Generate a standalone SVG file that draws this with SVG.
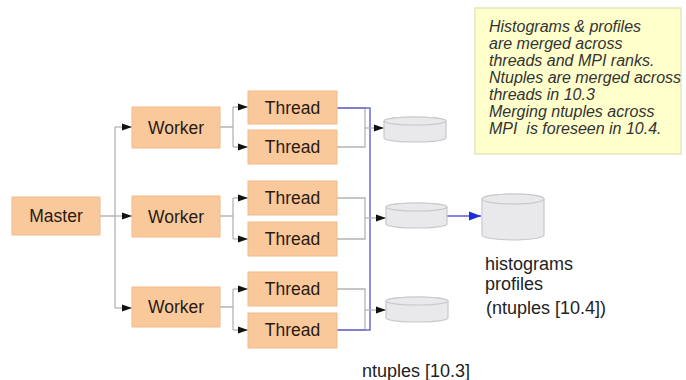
<svg xmlns="http://www.w3.org/2000/svg" width="686" height="380" viewBox="0 0 686 380">
<defs>
<marker id="ah" markerUnits="userSpaceOnUse" markerWidth="11" markerHeight="8" refX="10" refY="4" orient="auto"><path d="M0,0.5 L10,4 L0,7.5 z" fill="#111"/></marker>
<marker id="ahb" markerUnits="userSpaceOnUse" markerWidth="13" markerHeight="10" refX="12" refY="5" orient="auto"><path d="M0,0.5 L12,5 L0,9.5 z" fill="#1a2ee0"/></marker>
</defs>
<style>
.box{fill:#f9c99c;stroke:#f3bb88;stroke-width:1}
.lbl{font-family:"Liberation Sans",Arial,sans-serif;font-size:17.5px;fill:#2a1a10;text-anchor:middle}
.c{fill:none;stroke:#b4b4b4;stroke-width:1.3}
.b{fill:none;stroke:#6a6ad8;stroke-width:1.5}
.db{fill:#e9e9eb;stroke:#c9c9cd;stroke-width:1.2}
.note{font-family:"Liberation Sans",Arial,sans-serif;font-size:16px;font-style:italic;fill:#333}
.t{font-family:"Liberation Sans",Arial,sans-serif;font-size:18px;fill:#222}
</style>
<rect width="686" height="380" fill="#fff"/>

<g id="note">
<rect x="475" y="8" width="206" height="146" fill="#ffffcc" stroke="#e6e6bf" stroke-width="1.5"/>
<text class="note" x="489" y="32">Histograms &amp; profiles</text>
<text class="note" x="489" y="49">are merged across</text>
<text class="note" x="489" y="66">threads and MPI ranks.</text>
<text class="note" x="489" y="83">Ntuples are merged across</text>
<text class="note" x="489" y="100">threads in 10.3</text>
<text class="note" x="489" y="117">Merging ntuples across</text>
<text class="note" x="489" y="134" xml:space="preserve">MPI  is foreseen in 10.4.</text>
</g>

<g id="connectors">
<path class="c" d="M100,216 H115 M115,127 V308"/>
<path class="c" d="M115,127 H132" marker-end="url(#ah)"/>
<path class="c" d="M115,216 H132" marker-end="url(#ah)"/>
<path class="c" d="M115,308 H132" marker-end="url(#ah)"/>
<path class="c" d="M220,127 H233 M233,107 V147 M220,216 H233 M233,198 V239 M220,307 H233 M233,289 V330"/>
<path class="c" d="M233,107 H248" marker-end="url(#ah)"/>
<path class="c" d="M233,147 H248" marker-end="url(#ah)"/>
<path class="c" d="M233,198 H248" marker-end="url(#ah)"/>
<path class="c" d="M233,239 H248" marker-end="url(#ah)"/>
<path class="c" d="M233,289 H248" marker-end="url(#ah)"/>
<path class="c" d="M233,330 H248" marker-end="url(#ah)"/>
<path class="c" d="M337,108 H365 V147 H337 M337,198 H365 V239 H337 M337,289 H365 V330 H337"/>
<path class="b" d="M337,108 H370 V330 H337"/>
<path class="c" d="M365,128 H384" marker-end="url(#ah)"/>
<path class="c" d="M365,218 H386" marker-end="url(#ah)"/>
<path class="c" d="M365,310 H386" marker-end="url(#ah)"/>
<path fill="none" stroke="#5a5ad8" stroke-width="1.5" d="M447,216 H481" marker-end="url(#ahb)"/>
</g>

<g id="master"><rect class="box" x="12" y="197" width="88" height="38"/><text class="lbl" x="56" y="222">Master</text></g>
<g id="worker1"><rect class="box" x="132" y="107" width="88" height="41"/><text class="lbl" x="176" y="134">Worker</text></g>
<g id="worker2"><rect class="box" x="132" y="196" width="88" height="41"/><text class="lbl" x="176" y="223">Worker</text></g>
<g id="worker3"><rect class="box" x="132" y="287" width="88" height="40"/><text class="lbl" x="176" y="313">Worker</text></g>

<g id="thread1"><rect class="box" x="248" y="91" width="89" height="33"/><text class="lbl" x="292.5" y="114">Thread</text></g>
<g id="thread2"><rect class="box" x="248" y="130" width="89" height="34"/><text class="lbl" x="292.5" y="153">Thread</text></g>
<g id="thread3"><rect class="box" x="248" y="181" width="89" height="34"/><text class="lbl" x="292.5" y="204">Thread</text></g>
<g id="thread4"><rect class="box" x="248" y="222" width="89" height="34"/><text class="lbl" x="292.5" y="245">Thread</text></g>
<g id="thread5"><rect class="box" x="248" y="272" width="89" height="34"/><text class="lbl" x="292.5" y="295">Thread</text></g>
<g id="thread6"><rect class="box" x="248" y="313" width="89" height="35"/><text class="lbl" x="292.5" y="336">Thread</text></g>

<g id="db1"><path class="db" d="M384,121 V138 A31,4 0 0 0 446,138 V121 A31,4 0 0 0 384,121 Z"/><ellipse class="db" cx="415" cy="121" rx="31" ry="4"/></g>
<g id="db2"><path class="db" d="M386,207 V224 A30.5,4 0 0 0 447,224 V207 A30.5,4 0 0 0 386,207 Z"/><ellipse class="db" cx="416.5" cy="207" rx="30.5" ry="4"/></g>
<g id="db3"><path class="db" d="M386,301 V318 A31,4 0 0 0 448,318 V301 A31,4 0 0 0 386,301 Z"/><ellipse class="db" cx="417" cy="301" rx="31" ry="4"/></g>
<g id="db-main"><path class="db" d="M482,199 V235 A31,5 0 0 0 544,235 V199 A31,5 0 0 0 482,199 Z"/><ellipse class="db" cx="513" cy="199" rx="31" ry="5"/></g>

<g id="labels">
<text class="t" x="485" y="270">histograms</text>
<text class="t" x="485" y="290">profiles</text>
<text class="t" x="486" y="314">(ntuples [10.4])</text>
<text class="t" x="362" y="377">ntuples [10.3]</text>
</g>
</svg>
